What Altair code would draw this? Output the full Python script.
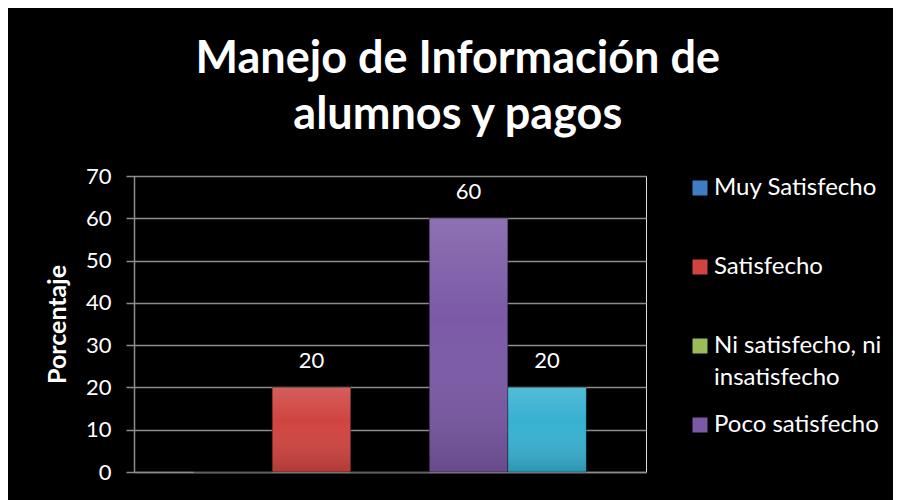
import altair as alt
import pandas as pd

categories = ["Muy Satisfecho", "Satisfecho", "Ni satisfecho, ni insatisfecho",
              "Poco satisfecho", "Nada satisfecho"]
values = [0, 20, 0, 60, 20]
colors = ["#3F7CC2", "#CF4440", "#9BBB59", "#7B59A6", "#37B1D1"]
legend_shown = categories[:4]
y_ticks = [0, 10, 20, 30, 40, 50, 60, 70]
title_lines = ["Manejo de Información de", "alumnos y pagos"]

df = pd.DataFrame({"Categoria": categories, "Porcentaje": values})

GRID = "#8c8c8c"

x_enc = alt.X("Categoria:N", sort=categories,
              scale=alt.Scale(paddingInner=0, paddingOuter=0.76),
              axis=alt.Axis(labels=False, ticks=False, title=None,
                            domainColor=GRID, domainWidth=1.5, grid=False))
y_enc = alt.Y("Porcentaje:Q", scale=alt.Scale(domain=[0, 70], nice=False),
              axis=alt.Axis(values=y_ticks, tickSize=8, tickColor=GRID, tickWidth=1.5,
                            domainColor=GRID, domainWidth=1.5,
                            grid=True, gridColor=GRID, gridWidth=1.5,
                            labelColor="white", labelFont="Lato", labelFontSize=22,
                            labelPadding=15, title="Porcentaje", titleFont="Lato",
                            titleFontSize=25, titleFontWeight="bold", titleColor="white",
                            titlePadding=15))

bars = alt.Chart(df).mark_bar(stroke="#000000", strokeOpacity=0.35, strokeWidth=1).encode(
    x=x_enc,
    y=y_enc,
    color=alt.Color("Categoria:N",
                    scale=alt.Scale(domain=categories, range=colors),
                    legend=alt.Legend(
                        title=None, orient="right", offset=42, values=legend_shown,
                        symbolType="square", symbolSize=225, symbolStrokeWidth=0,
                        labelFont="Lato", labelFontSize=24, labelColor="white",
                        labelLimit=400, labelOffset=2, rowPadding=23, gridAlign="all",
                        labelBaseline="middle",
                        labelExpr="datum.label == 'Ni satisfecho, ni insatisfecho' ? ['Ni satisfecho, ni', 'insatisfecho'] : datum.label",
                    )),
)

shade = alt.Chart(df).mark_bar(
    color=alt.Gradient(
        gradient="linear", x1=0, x2=0, y1=0, y2=1,
        stops=[alt.GradientStop(color="rgba(255,255,255,0.14)", offset=0),
               alt.GradientStop(color="rgba(255,255,255,0.0)", offset=0.4),
               alt.GradientStop(color="rgba(0,0,0,0.16)", offset=1)])
).encode(x=alt.X("Categoria:N", sort=categories), y="Porcentaje:Q")

labels = alt.Chart(df).transform_filter("datum.Porcentaje > 0").mark_text(
    color="white", font="Lato", fontSize=22, dy=-19, baseline="alphabetic"
).encode(
    x=alt.X("Categoria:N", sort=categories),
    y="Porcentaje:Q",
    text="Porcentaje:Q",
)

chart = alt.layer(bars, shade, labels).properties(
    width=885,
    height=492,
    autosize=alt.AutoSizeParams(type="fit", contains="padding"),
    background="#000000",
    padding={"left": 37, "top": 29, "right": 11, "bottom": 17},
    title=alt.TitleParams(text=title_lines, fontSize=45, font="Lato", fontWeight="bold",
                          color="white", anchor="middle", frame="bounds",
                          lineHeight=56, offset=27, dx=-6),
).configure_view(fill="#404040", stroke=None).configure(
    style={"guide-label": {"lineHeight": 32}}
)

chart.save("out.html", embed_options={"renderer": "svg", "actions": False})
